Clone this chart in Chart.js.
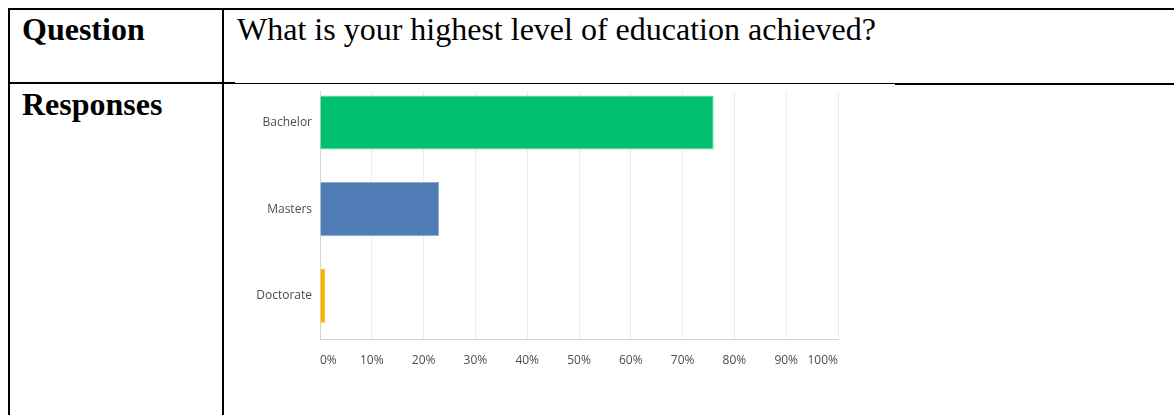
<!DOCTYPE html>
<html>
<head>
<meta charset="utf-8">
<title>Education level</title>
<script src="https://cdn.jsdelivr.net/npm/chart.js@4.4.1/dist/chart.umd.min.js"></script>
<style>
    html, body { margin: 0; padding: 0; background: #fff; width: 1174px; height: 415px; overflow: hidden; }
    .rule { position: absolute; background: #000; z-index: 2; }
    .cell-text {
        position: absolute;
        font-family: "Liberation Serif", "Times New Roman", serif;
        font-size: 32px;
        line-height: 1;
        color: #000;
        white-space: nowrap;
    }
    .cell-text.bold { font-weight: bold; }
    /* the y scale adds ~15px above the plot and the x scale 14px to its right */
    #chartBox { position: absolute; left: 230px; top: 64px; width: 622px; height: 326px; z-index: 1; }
</style>
</head>
<body>

<!-- table rules -->
<div class="rule" style="left:8px;top:8px;width:1166px;height:2px"></div>
<div class="rule" style="left:8px;top:8px;width:2px;height:407px"></div>
<div class="rule" style="left:222px;top:8px;width:2px;height:407px"></div>
<div class="rule" style="left:8px;top:82px;width:227px;height:2px"></div>
<div class="rule" style="left:235px;top:83px;width:660px;height:1px"></div>
<div class="rule" style="left:895px;top:83px;width:279px;height:2px"></div>

<div class="cell-text bold" style="left:22px;top:13px">Question</div>
<div class="cell-text" style="left:237px;top:13px">What is your highest level of education achieved?</div>
<div class="cell-text bold" style="left:22px;top:88px">Responses</div>

<div id="chartBox"><canvas id="eduChart"></canvas></div>

<script>
const categories = ['Bachelor', 'Masters', 'Doctorate'];
const percentages = [76, 23, 1];
const barColors = ['#00bf6f', '#507cb6', '#f7b500'];
const barEdges = ['#6fdcad', '#8eabd3', '#f7b500'];

const axisFont = { family: '"Open Sans", "DejaVu Sans", sans-serif', size: 12 };
const labelGrey = '#4d4d4d';

// keeps the top of the grid clear, the gridlines start a bit under the plot top
const trimGridTop = {
    id: 'trimGridTop',
    beforeDatasetsDraw(chart) {
        const { ctx, chartArea } = chart;
        ctx.save();
        ctx.fillStyle = '#ffffff';
        ctx.fillRect(chartArea.left - 2, chartArea.top - 1, chartArea.right - chartArea.left + 4, 13);
        ctx.restore();
    }
};

new Chart(document.getElementById('eduChart'), {
    type: 'bar',
    data: {
        labels: categories,
        datasets: [{
            data: percentages,
            backgroundColor: barColors,
            borderColor: barEdges,
            borderWidth: 1,
            categoryPercentage: 1,
            barPercentage: 0.625
        }]
    },
    options: {
        indexAxis: 'y',
        responsive: true,
        maintainAspectRatio: false,
        animation: false,
        layout: { padding: 0 },
        scales: {
            x: {
                min: 0,
                max: 100,
                ticks: {
                    stepSize: 10,
                    align: 'inner',
                    padding: 14,
                    color: labelGrey,
                    font: axisFont,
                    callback: v => v + '%'
                },
                grid: { color: '#ececec', drawTicks: false },
                border: { color: '#d4d4d4' },
                afterFit: scale => { scale.height = 51; }
            },
            y: {
                ticks: { padding: 8, color: labelGrey, font: axisFont },
                grid: { display: false, drawTicks: false },
                border: { color: '#d4d4d4' },
                afterFit: scale => { scale.width = 90; }
            }
        },
        plugins: {
            legend: { display: false },
            tooltip: { enabled: false }
        }
    },
    plugins: [trimGridTop]
});
</script>
</body>
</html>
